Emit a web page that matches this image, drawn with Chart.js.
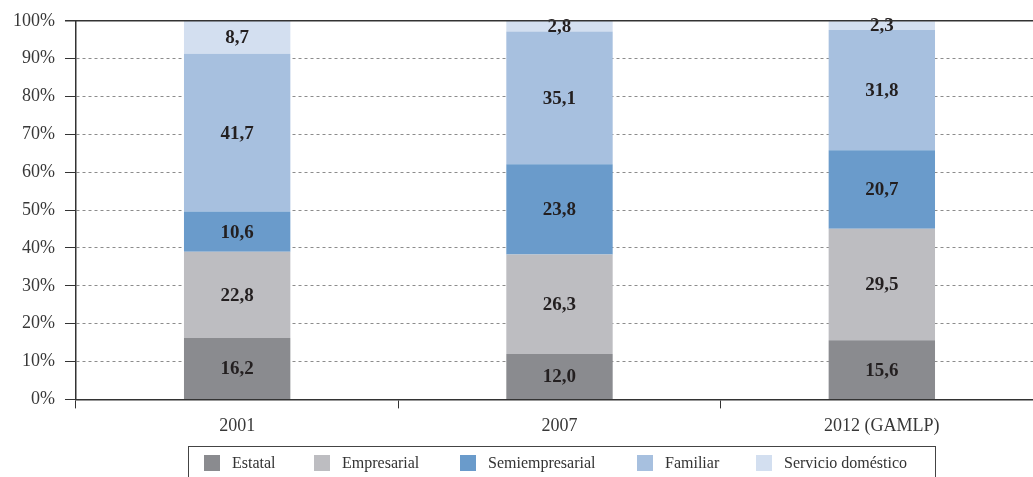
<!DOCTYPE html>
<html>
<head>
<meta charset="utf-8">
<script src="https://cdn.jsdelivr.net/npm/chart.js@4/dist/chart.umd.min.js"></script>
<style>
  html, body { margin: 0; padding: 0; background: #fff; overflow: hidden; }
  #wrap { position: relative; width: 1033px; height: 477px; overflow: hidden; }
  #c { position: absolute; left: 0; top: 0; }
  #legend { position: absolute; left: 188px; top: 446px; width: 748px; height: 40px; border: 1px solid #444; box-sizing: border-box; font-family: "Liberation Serif", serif; font-size: 16px; color: #333; }
  .item { position: absolute; top: 8px; height: 16px; display: flex; align-items: center; white-space: nowrap; }
  .sw { width: 16px; height: 16px; margin-right: 12px; }
</style>
</head>
<body>
<div id="wrap">
  <canvas id="c" width="1043" height="477"></canvas>
  <div id="legend"></div>
</div>
<script>
const categories = ["2001", "2007", "2012 (GAMLP)"];
const seriesNames = ["Estatal", "Empresarial", "Semiempresarial", "Familiar", "Servicio doméstico"];
const estatal = [16.2, 12.0, 15.6];
const empresarial = [22.8, 26.3, 29.5];
const semiempresarial = [10.6, 23.8, 20.7];
const familiar = [41.7, 35.1, 31.8];
const servicioDomestico = [8.7, 2.8, 2.3];
const colors = ["#8a8b8f", "#bdbdc1", "#6a9bcb", "#a7c0df", "#d3dff0"];
const yTicks = [0, 10, 20, 30, 40, 50, 60, 70, 80, 90, 100];
const legendLeft = [15, 125, 271, 448, 567];

const seriesData = [estatal, empresarial, semiempresarial, familiar, servicioDomestico];
const FONT = "'Liberation Serif', 'Times New Roman', serif";

const datasets = seriesNames.map((name, i) => ({
  label: name,
  data: seriesData[i],
  backgroundColor: colors[i],
  borderWidth: 0,
  barPercentage: 1,
  categoryPercentage: 0.33
}));

const labelsPlugin = {
  id: 'valueLabels',
  afterDatasetsDraw(chart) {
    const ctx = chart.ctx;
    ctx.save();
    ctx.font = "bold 19px " + FONT;
    ctx.fillStyle = "#231f20";
    ctx.textAlign = "center";
    ctx.textBaseline = "middle";
    chart.data.datasets.forEach((ds, di) => {
      const meta = chart.getDatasetMeta(di);
      meta.data.forEach((bar, j) => {
        const v = ds.data[j];
        const yc = (bar.y + bar.base) / 2;
        ctx.fillText(v.toFixed(1).replace('.', ','), bar.x, yc + 1);
      });
    });
    ctx.restore();
  },
  afterDraw(chart) {
    const ctx = chart.ctx;
    const y = chart.scales.y.getPixelForValue(100);
    ctx.save();
    ctx.strokeStyle = "#333";
    ctx.lineWidth = 1.5;
    ctx.beginPath();
    ctx.moveTo(chart.chartArea.left - 11, y);
    ctx.lineTo(chart.chartArea.right, y);
    ctx.stroke();
    ctx.restore();
  }
};

new Chart(document.getElementById('c'), {
  type: 'bar',
  data: { labels: categories, datasets },
  options: {
    responsive: false,
    animation: false,
    layout: { padding: { left: 3, right: 0, top: 20, bottom: 33 } },
    plugins: { legend: { display: false }, tooltip: { enabled: false } },
    scales: {
      x: {
        stacked: true,
        offset: true,
        grid: { offset: true, drawOnChartArea: false, tickLength: 9, color: "#333", lineWidth: 1 },
        border: { display: true, color: "#333", width: 1.5 },
        ticks: { color: "#383838", font: { family: FONT, size: 18 }, padding: 7 }
      },
      y: {
        stacked: true,
        min: 0,
        max: 100,
        afterBuildTicks(scale) { scale.ticks = yTicks.map(v => ({ value: v })); },
        grid: {
          color: (c) => (c.tick && (c.tick.value === 0 || c.tick.value === 100)) ? "rgba(0,0,0,0)" : "#8c8c8c",
          tickColor: "#333",
          tickLength: 11,
          lineWidth: 1
        },
        border: { display: true, color: "#333", width: 1.5, dash: [3, 3] },
        ticks: { color: "#383838", font: { family: FONT, size: 18 }, padding: 10, callback: (v) => v + "%" }
      }
    }
  },
  plugins: [labelsPlugin]
});

const legend = document.getElementById('legend');
seriesNames.forEach((name, i) => {
  const it = document.createElement('div');
  it.className = 'item';
  it.style.left = legendLeft[i] + 'px';
  const sw = document.createElement('span');
  sw.className = 'sw';
  sw.style.background = colors[i];
  const tx = document.createElement('span');
  tx.textContent = name;
  it.appendChild(sw);
  it.appendChild(tx);
  legend.appendChild(it);
});
</script>
</body>
</html>
